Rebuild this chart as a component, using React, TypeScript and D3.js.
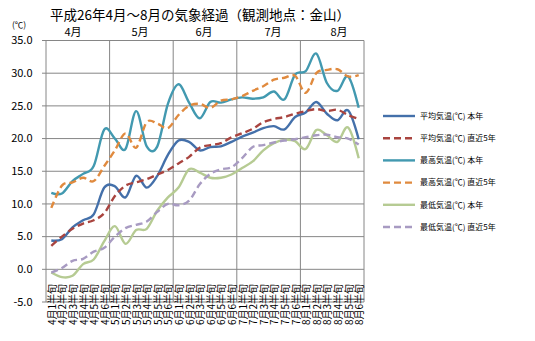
import React from "react";
import * as d3 from "d3";

const months = [4, 5, 6, 7, 8];
const pentads = [1, 2, 3, 4, 5, 6];
const categories = months.flatMap((m) => pentads.map((p) => `${m}月${p}半旬`));
const monthLabels = ["4月", "5月", "6月", "7月", "8月"];
const yTicks = [-5, 0, 5, 10, 15, 20, 25, 30, 35];

const avgThisYear = [4.4, 4.6, 6.4, 7.5, 8.4, 12.5, 12.7, 11.0, 14.3, 12.5, 14.3, 17.5, 19.7, 19.5, 18.2, 18.7, 18.8, 19.5, 20.3, 20.9, 21.6, 21.9, 21.4, 23.3, 24.0, 25.6, 23.8, 22.8, 24.3, 19.9];
const avg5yr = [3.6, 5.0, 6.2, 7.0, 7.5, 8.6, 11.2, 12.8, 13.3, 13.8, 14.5, 15.2, 16.2, 17.2, 18.6, 19.0, 19.3, 20.2, 20.8, 21.5, 22.5, 23.0, 23.3, 23.8, 24.2, 24.5, 24.2, 24.4, 23.6, 23.0];
const maxThisYear = [11.7, 11.6, 13.5, 14.6, 15.8, 21.4, 20.0, 18.4, 24.2, 18.8, 18.8, 25.3, 28.3, 25.5, 23.1, 25.6, 25.5, 26.0, 26.3, 26.1, 26.3, 27.2, 26.0, 29.8, 30.3, 33.0, 28.5, 27.3, 29.5, 24.7];
const max5yr = [9.4, 12.8, 13.3, 14.0, 13.5, 15.8, 18.2, 20.8, 18.6, 22.5, 22.3, 21.6, 23.6, 25.0, 25.3, 24.7, 25.8, 26.0, 26.5, 27.3, 28.0, 29.0, 29.3, 29.6, 27.0, 30.0, 30.5, 30.6, 29.5, 29.7];
const minThisYear = [-0.5, -1.2, -1.0, 0.8, 1.5, 4.3, 6.6, 3.9, 6.0, 6.2, 9.0, 11.0, 12.5, 15.3, 14.8, 14.0, 14.0, 14.5, 15.5, 16.5, 18.2, 19.3, 19.8, 19.6, 18.4, 21.3, 20.5, 19.5, 21.7, 17.0];
const min5yr = [-0.5, 0.2, 1.3, 1.6, 2.7, 3.3, 5.0, 6.3, 6.8, 7.3, 8.8, 10.0, 9.8, 10.5, 13.0, 14.6, 15.3, 15.6, 17.0, 18.7, 19.0, 19.4, 19.7, 19.9, 20.2, 20.5, 20.6, 20.2, 20.0, 19.1];

const seriesNames = [
  "平均気温(℃) 本年",
  "平均気温(℃) 直近5年",
  "最高気温(℃) 本年",
  "最高気温(℃) 直近5年",
  "最低気温(℃) 本年",
  "最低気温(℃) 直近5年",
];
const seriesValues = [avgThisYear, avg5yr, maxThisYear, max5yr, minThisYear, min5yr];
const seriesColors = ["#4470AA", "#A9443F", "#4299B0", "#E08A3E", "#B6CB93", "#A89BC2"];
const seriesDashed = [false, true, false, true, false, true];

const FONT = "'Noto Sans CJK JP', 'Noto Sans', sans-serif";

export default function App() {
  const W = 535, H = 341;
  const left = 46, right = 364, top = 40.5, bottom = 302;
  const x = d3.scaleBand<string>().domain(categories).range([left, right]).padding(0);
  const y = d3.scaleLinear().domain([-5, 35]).range([bottom, top]);
  const cx = (i: number) => (x(categories[i]) as number) + x.bandwidth() / 2;
  const line = d3
    .line<number>()
    .x((_, i) => cx(i))
    .y((v) => y(v))
    .curve(d3.curveCardinal.tension(0));
  const monthW = (right - left) / months.length;
  const monthLabelX = [73, 140, 204, 273, 339];
  const legendY0 = 116, legendDy = 22.2;

  return (
    <svg width={W} height={H} style={{ position: "absolute", left: 0, top: 0, background: "#fff" }} fontFamily={FONT}>
      <rect width={W} height={H} fill="#fff" />
      <text x={200} y={20} fontSize={13.5} textAnchor="middle" fill="#000">
        平成26年4月～8月の気象経過（観測地点：金山）
      </text>
      <text x={19} y={28} fontSize={8.5} textAnchor="middle" fill="#000">(℃)</text>
      {monthLabels.map((m, i) => (
        <text key={m} x={monthLabelX[i]} y={36} fontSize={11} textAnchor="middle" fill="#000">{m}</text>
      ))}
      {yTicks.map((t) => (
        <g key={t}>
          <line x1={left - 4} x2={right} y1={y(t)} y2={y(t)} stroke="#868686" strokeWidth={1} />
          <text x={32.5} y={y(t)} dy="0.35em" fontSize={11} textAnchor="end" fill="#000">{t.toFixed(1)}</text>
        </g>
      ))}
      {d3.range(months.length + 1).map((k) => (
        <line key={k} x1={left + k * monthW} x2={left + k * monthW} y1={top} y2={bottom} stroke="#868686" strokeWidth={1} />
      ))}
      {categories.map((c, i) => (
        <text
          key={c}
          transform={`translate(${cx(i)},325) rotate(-90)`}
          fontSize={10}
          dominantBaseline="central"
          textAnchor="start"
          fill="#000"
        >
          {c}
        </text>
      ))}
      {seriesValues.map((vals, s) => (
        <path
          key={s}
          d={line(vals) as string}
          fill="none"
          stroke={seriesColors[s]}
          strokeWidth={2.4}
          strokeDasharray={seriesDashed[s] ? "7,4" : undefined}
          strokeLinecap="butt"
        />
      ))}
      {seriesNames.map((n, s) => (
        <g key={n} transform={`translate(0,${legendY0 + s * legendDy})`}>
          <line x1={383} x2={415} y1={0} y2={0} stroke={seriesColors[s]} strokeWidth={2.4} strokeDasharray={seriesDashed[s] ? "7,4" : undefined} />
          <text x={420} y={0} dy="0.35em" fontSize={8} fill="#000">{n}</text>
        </g>
      ))}
    </svg>
  );
}
